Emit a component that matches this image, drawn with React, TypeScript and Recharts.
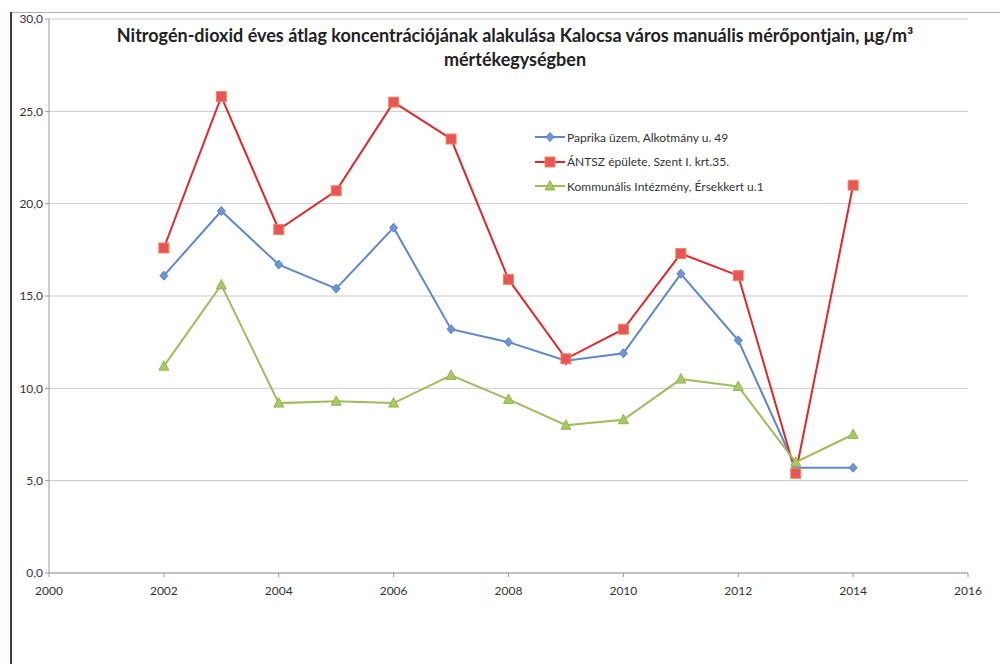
import React from "react";
import { LineChart, Line, XAxis, YAxis, CartesianGrid } from "recharts";

const years = [2002, 2003, 2004, 2005, 2006, 2007, 2008, 2009, 2010, 2011, 2012, 2013, 2014];
const paprika = [16.1, 19.6, 16.7, 15.4, 18.7, 13.2, 12.5, 11.5, 11.9, 16.2, 12.6, 5.7, 5.7];
const antsz = [17.6, 25.8, 18.6, 20.7, 25.5, 23.5, 15.9, 11.6, 13.2, 17.3, 16.1, 5.4, 21.0];
const kommunalis = [11.2, 15.6, 9.2, 9.3, 9.2, 10.7, 9.4, 8.0, 8.3, 10.5, 10.1, 6.0, 7.5];

const seriesNames = [
  "Paprika üzem, Alkotmány u. 49",
  "ÁNTSZ épülete, Szent I. krt.35.",
  "Kommunális Intézmény, Érsekkert u.1",
];
const xTicks = [2000, 2002, 2004, 2006, 2008, 2010, 2012, 2014, 2016];
const yTicks = [0, 5, 10, 15, 20, 25, 30];
const titleLine1 = "Nitrogén-dioxid éves átlag koncentrációjának alakulása Kalocsa város manuális mérőpontjain, μg/m³";
const titleLine2 = "mértékegységben";

const data = years.map((y, i) => ({ year: y, a: paprika[i], b: antsz[i], c: kommunalis[i] }));

const BLUE = "#5f87cc";
const RED = "#e1262c";
const GREEN = "#9dbd5a";

const Diamond = (props: any) => {
  const { cx, cy } = props;
  if (cx == null || cy == null) return null;
  return <path d={`M${cx},${cy - 4.5} L${cx + 4},${cy} L${cx},${cy + 4.5} L${cx - 4},${cy} Z`} fill="#6d95d8" stroke="#5a80c4" strokeWidth={1} />;
};
const Square = (props: any) => {
  const { cx, cy } = props;
  if (cx == null || cy == null) return null;
  return <rect x={cx - 5} y={cy - 5} width={10} height={10} fill="#e8545a" stroke="#ee8a50" strokeWidth={1} />;
};
const Triangle = (props: any) => {
  const { cx, cy } = props;
  if (cx == null || cy == null) return null;
  return <path d={`M${cx},${cy - 5.5} L${cx + 5},${cy + 4} L${cx - 5},${cy + 4} Z`} fill="#a9c862" stroke="#94b552" strokeWidth={1} />;
};

const legendItems = [
  { name: seriesNames[0], color: BLUE, Marker: Diamond },
  { name: seriesNames[1], color: RED, Marker: Square },
  { name: seriesNames[2], color: GREEN, Marker: Triangle },
];

const FONT = "Lato, sans-serif";

export default function App() {
  return (
    <div style={{ position: "absolute", left: 0, top: 0, width: 1000, height: 664, background: "#fff", overflow: "hidden" }}>
      <div style={{ position: "absolute", left: 10, top: 12, width: 990, height: 1, background: "#b0b0b0" }} />
      <div style={{ position: "absolute", left: 10, top: 12, width: 2, height: 652, background: "#4a3a34" }} />
      <div style={{ position: "absolute", left: 0, top: 0 }}>
        <LineChart width={1000} height={664} data={data} margin={{ top: 19, right: 32, bottom: 61, left: 0 }}>
          <CartesianGrid horizontal={true} vertical={false} stroke="#c9c9c9" />
          <XAxis
            dataKey="year"
            type="number"
            domain={[2000, 2016]}
            ticks={xTicks}
            interval={0}
            height={30}
            tickSize={4}
            tickMargin={9}
            stroke="#9a9a9a"
            tick={{ fill: "#333", fontSize: 12, fontFamily: FONT }}
          />
          <YAxis
            type="number"
            domain={[0, 30]}
            ticks={yTicks}
            interval={0}
            width={49}
            tickSize={4}
            tickMargin={2}
            stroke="#9a9a9a"
            tickFormatter={(v: number) => v.toFixed(1).replace(".", ",")}
            tick={{ fill: "#333", fontSize: 12, fontFamily: FONT }}
          />
          <Line dataKey="a" name={seriesNames[0]} stroke={BLUE} strokeWidth={2} dot={<Diamond />} activeDot={false} isAnimationActive={false} />
          <Line dataKey="b" name={seriesNames[1]} stroke={RED} strokeWidth={2} dot={<Square />} activeDot={false} isAnimationActive={false} />
          <Line dataKey="c" name={seriesNames[2]} stroke={GREEN} strokeWidth={2} dot={<Triangle />} activeDot={false} isAnimationActive={false} />
        </LineChart>
      </div>
      <div
        style={{
          position: "absolute",
          left: 0,
          width: 1030,
          top: 23,
          textAlign: "center",
          fontFamily: FONT,
          fontWeight: 700,
          fontSize: 18,
          lineHeight: "24px",
          color: "#222",
        }}
      >
        <div>{titleLine1}</div>
        <div>{titleLine2}</div>
      </div>
      <div style={{ position: "absolute", left: 535, top: 125, fontFamily: FONT, fontSize: 12, color: "#333" }}>
        {legendItems.map((it) => (
          <div key={it.name} style={{ display: "flex", alignItems: "center", height: 24.5 }}>
            <svg width={30} height={12} style={{ marginRight: 2 }}>
              <line x1={0} y1={6} x2={30} y2={6} stroke={it.color} strokeWidth={2} />
              <it.Marker cx={15} cy={6} />
            </svg>
            <span>{it.name}</span>
          </div>
        ))}
      </div>
    </div>
  );
}
